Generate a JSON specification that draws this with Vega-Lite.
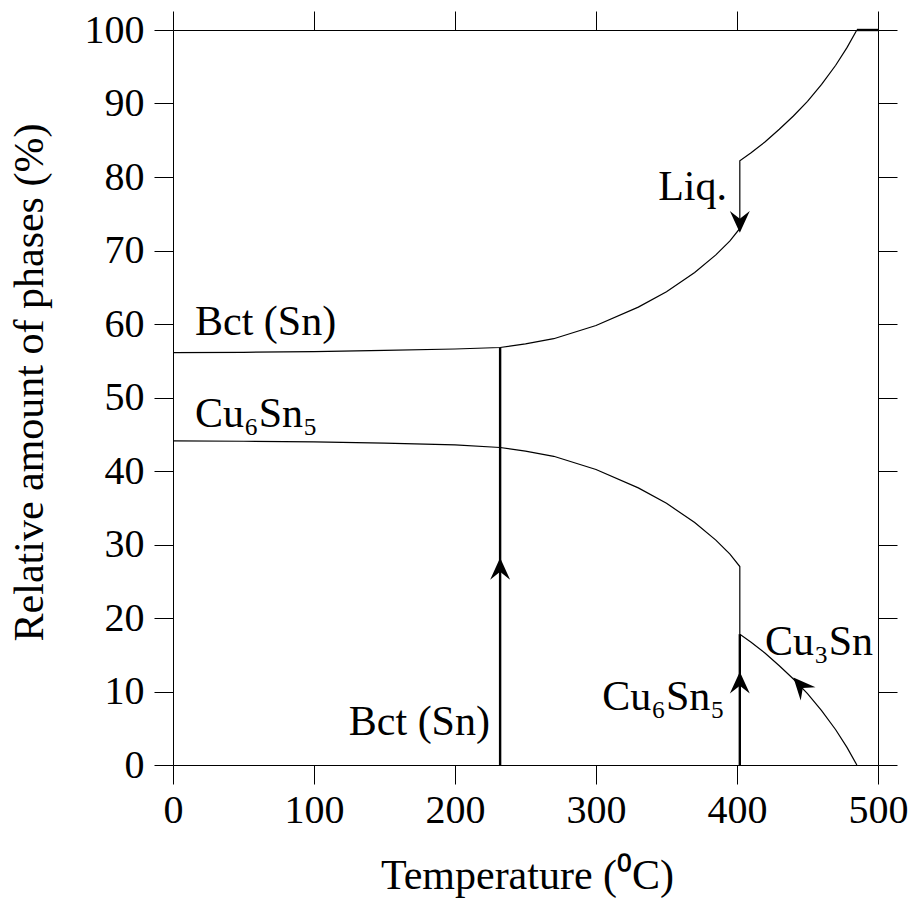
{
  "$schema": "https://vega.github.io/schema/vega-lite/v6.json",
  "width": 705,
  "height": 735,
  "autosize": "none",
  "padding": {"left": 173, "top": 30, "right": 34, "bottom": 133},
  "background": "white",
  "config": {
    "font": "Liberation Serif",
    "view": {"stroke": null},
    "axis": {
      "domainColor": "black", "tickColor": "black", "labelColor": "black", "titleColor": "black",
      "labelFont": "Liberation Serif", "titleFont": "Liberation Serif",
      "labelFontSize": 40, "titleFontSize": 42, "titleFontWeight": "normal",
      "grid": false, "tickSize": 19, "domainWidth": 1, "tickWidth": 1,
      "labelFlush": false, "labelOverlap": false
    }
  },
  "datasets": {
    "curves": [
      {"s": "upper", "o": 1, "t": 0, "p": 56.1},
      {"s": "upper", "o": 2, "t": 50, "p": 56.15},
      {"s": "upper", "o": 3, "t": 100, "p": 56.25},
      {"s": "upper", "o": 4, "t": 150, "p": 56.4},
      {"s": "upper", "o": 5, "t": 200, "p": 56.6},
      {"s": "upper", "o": 6, "t": 232, "p": 56.8},
      {"s": "upper", "o": 7, "t": 250, "p": 57.3},
      {"s": "upper", "o": 8, "t": 270, "p": 58.0},
      {"s": "upper", "o": 9, "t": 300, "p": 59.8},
      {"s": "upper", "o": 10, "t": 330, "p": 62.3},
      {"s": "upper", "o": 11, "t": 350, "p": 64.4},
      {"s": "upper", "o": 12, "t": 370, "p": 67.0},
      {"s": "upper", "o": 13, "t": 385, "p": 69.4},
      {"s": "upper", "o": 14, "t": 395, "p": 71.3},
      {"s": "upper", "o": 15, "t": 402, "p": 73.0},
      {"s": "upper", "o": 16, "t": 402, "p": 82.2},
      {"s": "upper", "o": 17, "t": 410, "p": 83.3},
      {"s": "upper", "o": 18, "t": 420, "p": 84.8},
      {"s": "upper", "o": 19, "t": 430, "p": 86.5},
      {"s": "upper", "o": 20, "t": 440, "p": 88.3},
      {"s": "upper", "o": 21, "t": 450, "p": 90.3},
      {"s": "upper", "o": 22, "t": 460, "p": 92.6},
      {"s": "upper", "o": 23, "t": 470, "p": 95.2},
      {"s": "upper", "o": 24, "t": 478, "p": 97.6},
      {"s": "upper", "o": 25, "t": 485, "p": 100},
      {"s": "lower", "o": 1, "t": 0, "p": 44.1},
      {"s": "lower", "o": 2, "t": 50, "p": 44.05},
      {"s": "lower", "o": 3, "t": 100, "p": 43.95},
      {"s": "lower", "o": 4, "t": 150, "p": 43.8},
      {"s": "lower", "o": 5, "t": 200, "p": 43.55},
      {"s": "lower", "o": 6, "t": 232, "p": 43.2},
      {"s": "lower", "o": 7, "t": 250, "p": 42.7},
      {"s": "lower", "o": 8, "t": 270, "p": 42.0},
      {"s": "lower", "o": 9, "t": 300, "p": 40.2},
      {"s": "lower", "o": 10, "t": 330, "p": 37.7},
      {"s": "lower", "o": 11, "t": 350, "p": 35.6},
      {"s": "lower", "o": 12, "t": 370, "p": 33.0},
      {"s": "lower", "o": 13, "t": 385, "p": 30.6},
      {"s": "lower", "o": 14, "t": 395, "p": 28.7},
      {"s": "lower", "o": 15, "t": 402, "p": 27.0},
      {"s": "lower", "o": 16, "t": 402, "p": 17.8},
      {"s": "lower", "o": 17, "t": 410, "p": 16.7},
      {"s": "lower", "o": 18, "t": 420, "p": 15.2},
      {"s": "lower", "o": 19, "t": 430, "p": 13.5},
      {"s": "lower", "o": 20, "t": 440, "p": 11.7},
      {"s": "lower", "o": 21, "t": 450, "p": 9.7},
      {"s": "lower", "o": 22, "t": 460, "p": 7.4},
      {"s": "lower", "o": 23, "t": 470, "p": 4.8},
      {"s": "lower", "o": 24, "t": 478, "p": 2.4},
      {"s": "lower", "o": 25, "t": 485, "p": 0},
      {"s": "v232", "o": 1, "t": 232, "p": 0},
      {"s": "v232", "o": 2, "t": 232, "p": 56.8},
      {"s": "v402", "o": 1, "t": 402, "p": 0},
      {"s": "v402", "o": 2, "t": 402, "p": 17.8},
      {"s": "top", "o": 1, "t": 485, "p": 100},
      {"s": "top", "o": 2, "t": 500, "p": 100}
    ],
    "arrows": [
      {"t": 232, "p": 28.2, "k": "up"},
      {"t": 402, "p": 12.7, "k": "up"},
      {"t": 402, "p": 72.4, "k": "down"},
      {"t": 440, "p": 11.9, "k": "upleft"}
    ],
    "labelsLeft": [
      {"t": 15.6, "p": 58.5, "txt": "Bct (Sn)"},
      {"t": 15.6, "p": 46.0, "txt": "Cu₆Sn₅"},
      {"t": 419.9, "p": 15.0, "txt": "Cu₃Sn"}
    ],
    "labelsRight": [
      {"t": 392.9, "p": 76.9, "txt": "Liq."},
      {"t": 224.8, "p": 4.1, "txt": "Bct (Sn)"},
      {"t": 391.5, "p": 7.5, "txt": "Cu₆Sn₅"}
    ]
  },
  "layer": [
    {
      "data": {"name": "curves"},
      "transform": [{"filter": {"field": "s", "oneOf": ["upper", "lower"]}}],
      "mark": {"type": "line", "color": "black", "strokeWidth": 1.2},
      "encoding": {
        "x": {"field": "t", "type": "quantitative", "scale": {"domain": [0, 500], "nice": false},
          "axis": {"orient": "bottom", "values": [0, 100, 200, 300, 400, 500], "title": "Temperature (⁰C)",
            "titleFont": "Liberation Serif", "titleFontSize": 42, "titleFontWeight": "normal",
            "titleX": 354, "titleY": 123, "titleBaseline": "alphabetic", "titleAlign": "center",
            "labelPadding": 6, "labelBaseline": "top"}},
        "y": {"field": "p", "type": "quantitative", "scale": {"domain": [0, 100], "nice": false},
          "axis": {"orient": "left", "values": [0, 10, 20, 30, 40, 50, 60, 70, 80, 90, 100],
            "title": "Relative amount of phases (%)",
            "titleFont": "Liberation Serif", "titleFontSize": 42, "titleFontWeight": "normal",
            "titleX": -131, "titleY": 352, "titleAngle": 270,
            "titleBaseline": "alphabetic", "titleAlign": "center", "labelPadding": 10}},
        "detail": {"field": "s"},
        "order": {"field": "o"}
      }
    },
    {
      "data": {"name": "curves"},
      "transform": [{"filter": {"field": "s", "oneOf": ["v232", "v402", "top"]}}],
      "mark": {"type": "line", "color": "black", "strokeWidth": 2.4},
      "encoding": {
        "x": {"field": "t", "type": "quantitative",
          "axis": {"orient": "top", "values": [0, 100, 200, 300, 400, 500], "labels": false, "title": null}},
        "y": {"field": "p", "type": "quantitative",
          "axis": {"orient": "right", "values": [0, 10, 20, 30, 40, 50, 60, 70, 80, 90, 100], "labels": false, "title": null}},
        "detail": {"field": "s"},
        "order": {"field": "o"}
      }
    },
    {
      "data": {"name": "arrows"},
      "mark": {"type": "point", "filled": true, "color": "black", "opacity": 1, "size": 576, "strokeWidth": 0},
      "encoding": {
        "x": {"field": "t", "type": "quantitative", "axis": null},
        "y": {"field": "p", "type": "quantitative", "axis": null},
        "shape": {"field": "k", "type": "nominal", "legend": null,
          "scale": {"domain": ["up", "down", "upleft"],
            "range": ["M0,0L0.83,1.83L0,1.17L-0.83,1.83Z", "M0,0L0.83,-1.83L0,-1.17L-0.83,-1.83Z", "M0,0L1.841,0.805L0.783,0.869L0.607,1.915Z"]}}
      }
    },
    {
      "data": {"name": "labelsLeft"},
      "mark": {"type": "text", "font": "Liberation Serif", "fontSize": 42, "align": "left", "baseline": "alphabetic", "color": "black"},
      "encoding": {
        "x": {"field": "t", "type": "quantitative", "axis": null},
        "y": {"field": "p", "type": "quantitative", "axis": null},
        "text": {"field": "txt"}
      }
    },
    {
      "data": {"name": "labelsRight"},
      "mark": {"type": "text", "font": "Liberation Serif", "fontSize": 42, "align": "right", "baseline": "alphabetic", "color": "black"},
      "encoding": {
        "x": {"field": "t", "type": "quantitative", "axis": null},
        "y": {"field": "p", "type": "quantitative", "axis": null},
        "text": {"field": "txt"}
      }
    }
  ],
  "resolve": {"axis": {"x": "independent", "y": "independent"}}
}
